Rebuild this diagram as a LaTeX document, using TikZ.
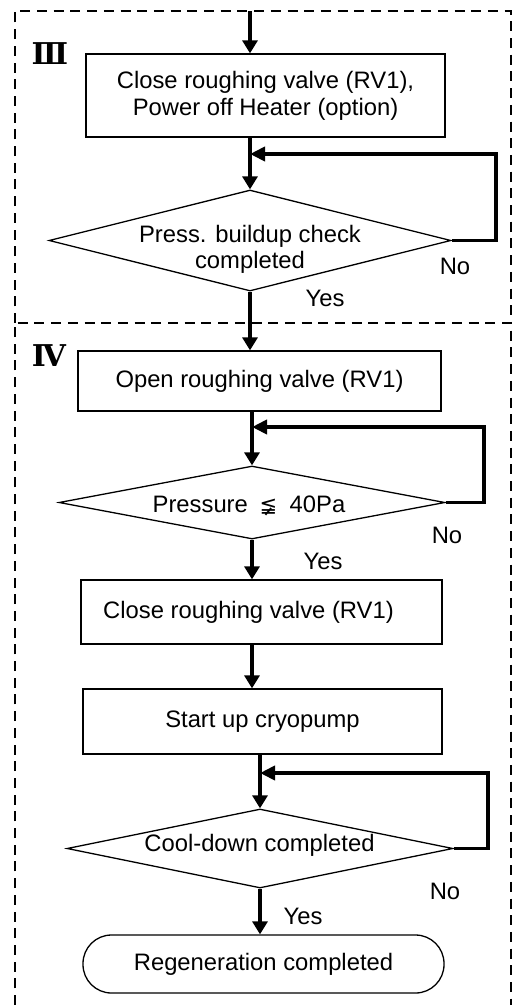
\documentclass[tikz,border=0pt]{standalone}
\usepackage{fontspec}
\setmainfont{Liberation Sans}
\newfontfamily\symfont{DejaVu Sans}
\newfontfamily\romfont{DejaVu Serif}
\usetikzlibrary{arrows.meta,shapes.geometric}
\begin{document}
\begin{tikzpicture}[x=1pt,y=-1pt,
  font=\fontsize{23.8}{27}\selectfont,
  box/.style={draw, line width=1.3pt, inner sep=0pt, align=center},
  dia/.style={draw, diamond, line width=1.3pt, inner sep=0pt},
  term/.style={draw, rectangle, rounded corners=28.5pt, line width=1.3pt, inner sep=0pt},
  lbl/.style={inner sep=0pt, align=center},
  arr/.style={line width=3.2pt, -{Triangle[width=15pt,length=13pt]}},
  fb/.style={line width=3.8pt, line join=miter, -{Triangle[width=14pt,length=15pt]}},
  frame/.style={line width=2.3pt, dash pattern=on 10pt off 6.7pt},
  roman/.style={inner sep=0pt, font=\romfont\bfseries\fontsize{30}{30}\selectfont}
]
\useasboundingbox (0,0) rectangle (515,1005);

% frames
\draw[frame] (15,323) -- (15,11) -- (511,11) -- (511,323);
\draw[frame] (15,1005) -- (15,323) -- (511,323) -- (511,1005);
\node[roman] (r3) at (50,54) {Ⅲ};
\node[roman] (r4) at (49,356) {Ⅳ};

% section III
\coordinate (top) at (250,11);
\node[box, minimum width=359pt, minimum height=83pt] (b1) at (265.5,95.5)
  {Close roughing valve (RV1),\\Power off Heater (option)};
\draw[arr] (top) -- (top |- b1.north);
\node[dia, minimum width=402pt, minimum height=101pt] (d1) at (250,240.5) {};
\node[lbl, font=\fontsize{23.8}{26}\selectfont] (t1) at (250,249) {Press. buildup check\\completed};
\draw[arr] (d1.north |- b1.south) -- (d1.north);
\coordinate (f1) at (496,154);
\draw[fb] (d1.east) -| (f1) -- (d1.north |- f1);
\node[lbl] (no1) at (455,266) {No};
\node[lbl] (yes1) at (325,298) {Yes};

% section IV
\node[box, minimum width=363pt, minimum height=60pt] (b2) at (259.5,381) {Open roughing valve (RV1)};
\draw[arr] (d1.south) -- (d1.south |- b2.north);
\node[dia, minimum width=386pt, minimum height=73pt] (d2) at (252,502.5) {};
\node[lbl] (t2) at (249,506) {Pressure\hspace{5pt} {\symfont\fontsize{21}{21}\selectfont ≨}\hspace{6pt} 40Pa};
\draw[arr] (d2.north |- b2.south) -- (d2.north);
\coordinate (f2) at (484,427);
\draw[fb] (d2.east) -| (f2) -- (d2.north |- f2);
\node[lbl] (no2) at (447,535) {No};
\node[lbl] (yes2) at (323,561) {Yes};

\node[box, minimum width=361pt, minimum height=64pt] (b3) at (261.5,612) {\hspace*{-26pt}Close roughing valve (RV1)};
\draw[arr] (d2.south) -- (d2.south |- b3.north);
\node[box, minimum width=359pt, minimum height=65pt] (b4) at (262.5,721.5) {Start up cryopump};
\draw[arr] (b3.south -| d2.south) -- (b4.north -| d2.south);

\node[dia, minimum width=386pt, minimum height=79pt] (d3) at (260,848.5) {};
\node[lbl] (t3) at (259.5,845) {Cool-down completed};
\draw[arr] (d3.north |- b4.south) -- (d3.north);
\coordinate (f3) at (488,773);
\draw[fb] (d3.east) -| (f3) -- (d3.north |- f3);
\node[lbl] (no3) at (445,891) {No};
\node[lbl] (yes3) at (303,916) {Yes};

\node[term, minimum width=361pt, minimum height=58pt] (end) at (263.5,964) {Regeneration completed};
\draw[arr] (d3.south) -- (d3.south |- end.north);
\end{tikzpicture}
\end{document}
